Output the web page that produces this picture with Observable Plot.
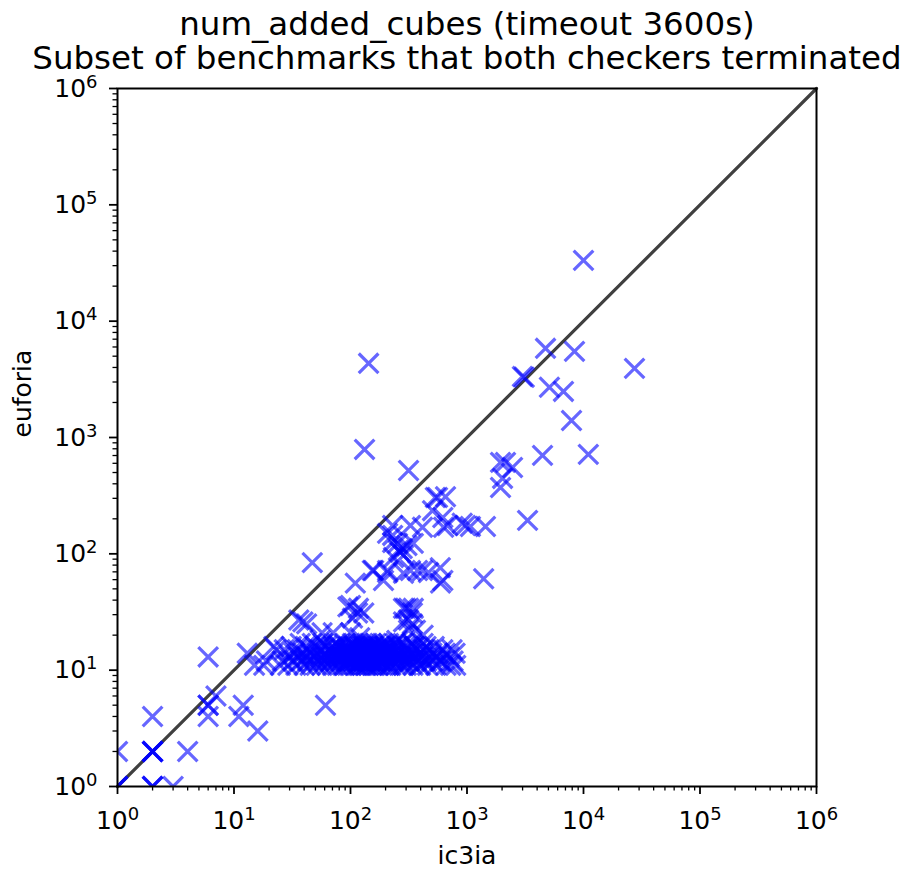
<!DOCTYPE html>
<html><head><meta charset="utf-8">
<script src="https://cdn.jsdelivr.net/npm/d3@7"></script>
<script src="https://cdn.jsdelivr.net/npm/@observablehq/plot@0.6"></script>
<style>body{margin:0;background:#fff;} svg{font-family:"DejaVu Sans";}</style>
</head><body><div id="chart"></div>
<script>
const title1 = "num_added_cubes (timeout 3600s)";
const title2 = "Subset of benchmarks that both checkers terminated";
const xLabel = "ic3ia";
const yLabel = "euforia";
const majorTicks = [1, 10, 100, 1000, 10000, 100000, 1000000];
const minorMultipliers = [2, 3, 4, 5, 6, 7, 8, 9];

// [ic3ia, euforia]
const lowPoints = [
  [1,1],[1,1],[1,1],[2,1],[2,1],[2,1],[3,1],[1,2],[2,2],[2,2],[2,2],[2,2],
  [4,2],[2,4],[6,4],[6,5],[6,5],[7,6],[11,4],[12,5],[16,3],[6,13],[13,14],[61,5],
  [15,11],[18,11],[19,12],[22,16],[23,15],[25,11]
];
const midPoints = [
  [36,27],[42,25],[39,26],[47,84],[57,21],[71,21],[100,21],[95,35],[100,36],[110,56],
  [115,31],[130,31],[117,34],[104,28],[154,72],[158,72],[192,59],[208,69],[208,72],[285,68],
  [297,34],[285,34],[315,34],[340,31],[346,34],[315,27],[285,26],[340,25],[361,22],[315,22],
  [376,72],[415,72],[327,72],[467,69],[590,76],[620,59],[593,56],[1390,61],[234,93],[268,103],
  [285,97],[305,118],[253,123],[230,125],[258,107],[278,111],[208,150],[230,144],[346,123],
  [230,175],[327,175],[415,169],[506,235],[535,305],[558,305],[654,310],[620,205],[630,169],
  [680,175],[910,183],[1070,172],[1440,172],[971,175],[3310,194]
];
const highPoints = [
  [315,521],[132,790],[143,4340],[1940,611],[2140,611],[2460,553],[2020,445],[1940,372],
  [4450,702],[11000,716],[2990,3350],[3100,3300],[4720,5840],[8370,5500],[27400,3930],
  [5100,2700],[6730,2490],[7890,1400],[10000,33300]
];
const clusterPoints = [
  [26,12],[27,15],[29,11],[30,13],[31,16],[32,12],[33,14],[34,11],[35,15],[36,13],[37,17],[38,12],
  [39,14],[40,11],[41,16],[42,13],[43,12],[44,15],[45,11],[46,14],[47,17],[48,12],[49,13],[50,16],
  [51,11],[52,14],[53,12],[55,15],[56,13],[57,11],[58,17],[60,12],[61,14],[62,16],[63,11],[65,13],
  [66,15],[67,12],[68,14],[70,11],[71,16],[72,13],[73,15],[75,12],[76,17],[77,11],[79,14],[80,13],
  [81,16],[83,12],[84,15],[86,11],[87,14],[88,13],[90,17],[91,12],[92,15],[94,11],[95,14],[96,16],
  [98,13],[99,12],[100,15],[102,11],[103,14],[104,17],[106,12],[107,13],[108,16],[110,11],[111,15],
  [112,14],[114,12],[115,13],[116,17],[118,11],[119,16],[120,14],[122,12],[123,15],[124,13],[126,11],
  [127,17],[128,14],[130,12],[131,16],[132,13],[134,15],[135,11],[136,14],[138,12],[139,17],[140,13],
  [142,16],[143,11],[145,15],[146,12],[148,14],[150,13],[151,17],[153,11],[155,16],[156,12],[158,15],
  [160,14],[162,11],[163,13],[165,17],[167,12],[169,15],[171,14],[173,11],[175,16],[177,13],[179,12],
  [181,15],[184,14],[186,11],[189,17],[191,12],[194,16],[197,13],[200,15],[203,11],[206,14],[209,12],
  [212,17],[215,13],[219,16],[222,11],[226,15],[230,12],[234,14],[238,13],[242,17],[247,11],[252,16],
  [256,12],[261,15],[266,14],[272,11],[277,13],[283,17],[289,12],[295,16],[301,11],[307,15],[314,13],
  [321,12],[328,14],[336,17],[344,11],[352,16],[360,13],[369,12],[378,15],[388,11],[398,14],[409,13],
  [420,17],[432,12],[445,16],[458,11],[472,15],[488,13],[505,12],[523,16],[541,11],[560,14],[585,12],
  [620,15],[660,11],[705,13],[725,11],[745,15],[760,12],[790,14],[800,11],
  [62,13],[69,12],[74,14],[78,16],[85,13],[89,11],[93,15],[97,12],[101,14],[105,16],[109,13],[113,11],
  [117,15],[121,12],[125,14],[129,16],[133,13],[137,11],[141,15],[147,12],[152,14],[157,16],[164,13],
  [170,11],[176,15],[183,12],[190,14],[198,16],[205,13],[214,11],[224,15],[235,12],[246,14],[258,16],
  [270,13],[285,11],[300,15],[318,12],[335,14],[355,16],[375,13],[400,11],[425,15],[450,12],[500,14],
  [550,13],[600,12],[650,14],[55,18],[120,19],[250,18],[420,20]
];
const diagonal = [[1, 1], [1000000, 1000000]];

const minorTicks = [];
for (const d of majorTicks.slice(0, -1)) for (const m of minorMultipliers) minorTicks.push(d * m);

const points = [...lowPoints, ...clusterPoints, ...midPoints, ...highPoints].map(([x, y]) => ({x, y}));
const expFormat = d => "10^" + Math.round(Math.log10(d));

const chart = Plot.plot({
  width: 904, height: 871,
  marginLeft: 117, marginRight: 88, marginTop: 88, marginBottom: 85,
  style: {fontFamily: "DejaVu Sans", fontSize: "25px", background: "white", color: "black"},
  x: {type: "log", domain: [1, 1000000]},
  y: {type: "log", domain: [1, 1000000]},
  marks: [
    Plot.line(diagonal, {x: d => d[0], y: d => d[1], stroke: "#3f3f3f", strokeWidth: 3.2}),
    Plot.dot(points, {x: "x", y: "y", symbol: "times", r: 9, stroke: "blue", strokeOpacity: 0.6, strokeWidth: 3.2, clip: true}),
    Plot.frame({stroke: "black", strokeWidth: 2}),
    Plot.axisX({ticks: majorTicks, tickSize: 8, tickPadding: 17, tickFormat: expFormat, label: null, strokeWidth: 1.8, fontSize: 25}),
    Plot.axisX({ticks: minorTicks, tickSize: 4.5, tickFormat: () => "", label: null, strokeWidth: 1.3}),
    Plot.axisY({ticks: majorTicks, tickSize: 8, tickPadding: 12, tickFormat: expFormat, label: null, strokeWidth: 1.8, fontSize: 25}),
    Plot.axisY({ticks: minorTicks, tickSize: 4.5, tickFormat: () => "", label: null, strokeWidth: 1.3}),
    Plot.text([title1 + "\n" + title2], {frameAnchor: "top", lineAnchor: "top", dy: -78, fontSize: 32.5, lineHeight: 1.05}),
    Plot.text([xLabel], {frameAnchor: "bottom", dy: 77, fontSize: 25}),
    Plot.text([yLabel], {frameAnchor: "left", dx: -95, rotate: -90, fontSize: 25})
  ]
});

d3.select(chart).selectAll("text").each(function () {
  const m = /^10\^(\d)$/.exec(this.textContent);
  if (m) {
    this.textContent = "10";
    d3.select(this).append("tspan").attr("dy", "-0.5em").attr("font-size", "0.72em").text(m[1]);
  }
});

document.getElementById("chart").appendChild(chart);
</script>
</body></html>
